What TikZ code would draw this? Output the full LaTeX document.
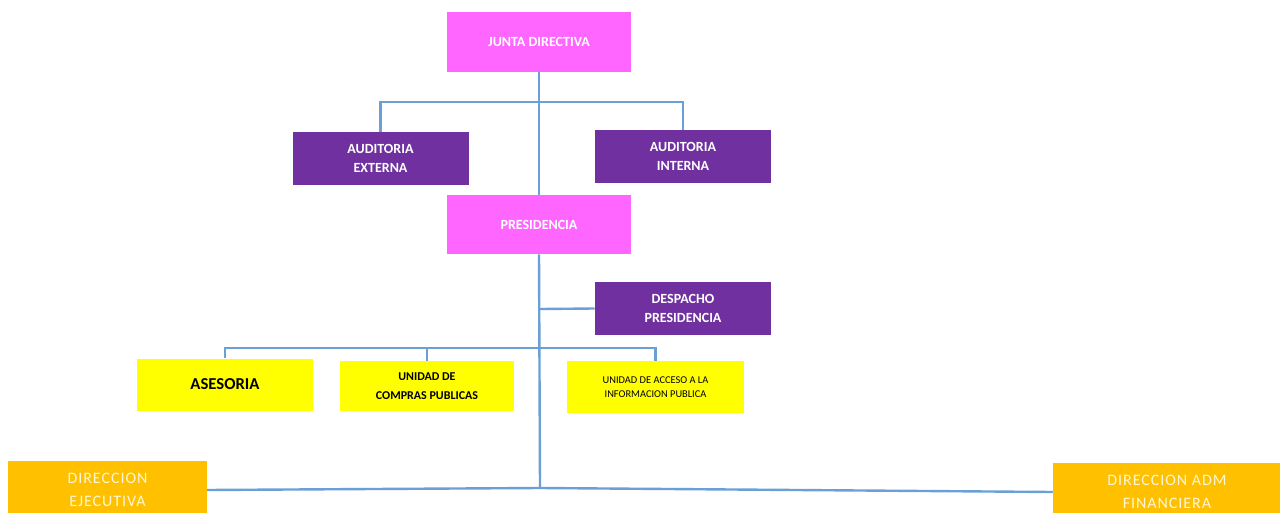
\documentclass[tikz,border=0pt]{standalone}
\usepackage{fontspec}
\setmainfont{Carlito}
\begin{document}
\begin{tikzpicture}[x=0.75pt,y=-0.75pt,
  box/.style={rectangle,inner sep=0pt,align=center,draw=none},
  pinkbox/.style={box,fill=magbox,text=white,minimum width=138pt,minimum height=44.5pt,font=\fontsize{10.5}{12}\selectfont\bfseries},
  violetbox/.style={box,fill=violetfill,text=white,minimum width=132pt,minimum height=39.75pt,font=\fontsize{10.5}{14}\selectfont\bfseries},
  yellowbox/.style={box,fill=yellowfill,text=black,minimum width=132pt,minimum height=39pt},
  orangebox/.style={box,fill=orangefill,text=orangetext,minimum height=44pt,font=\fontsize{12}{17}\selectfont\addfontfeature{LetterSpace=6}},
  link/.style={draw=linkblue,line width=1.8pt}]
\definecolor{magbox}{HTML}{FF66FF}
\definecolor{violetfill}{HTML}{7030A0}
\definecolor{yellowfill}{HTML}{FFFF00}
\definecolor{orangefill}{HTML}{FFC000}
\definecolor{orangetext}{HTML}{FFF6D6}
\definecolor{linkblue}{HTML}{6A9FD8}
\useasboundingbox (0,0) rectangle (1280,513);

% boxes
\node[pinkbox] (junta) at (539,42) {JUNTA DIRECTIVA};
\node[violetbox] (audext) at (380.5,158.5) {AUDITORIA\\EXTERNA};
\node[violetbox] (audint) at (683,156.5) {AUDITORIA\\INTERNA};
\node[pinkbox] (presi) at (539,224.5) {PRESIDENCIA};
\node[violetbox] (despacho) at (683,308.5) {DESPACHO\\PRESIDENCIA};
\node[yellowbox,font=\fontsize{12.5}{14}\selectfont\bfseries] (asesoria) at (225,384.5) {ASESORIA};
\node[yellowbox,minimum width=130.5pt,minimum height=37.5pt,font=\fontsize{9}{14}\selectfont\bfseries] (compras) at (427,386) {UNIDAD DE\\COMPRAS PUBLICAS};
\node[yellowbox,minimum width=133pt,font=\fontsize{7.8}{11}\selectfont] (acceso) at (655.5,387) {UNIDAD DE ACCESO A LA\\INFORMACION PUBLICA};
\node[orangebox,minimum width=149pt] (direje) at (107.5,490) {DIRECCION\\EJECUTIVA};
\node[orangebox,minimum width=171pt] (diradm) at (1167,492) {DIRECCION ADM\\FINANCIERA};

% junction points on the main vertical line
\coordinate (jtop) at (540,102);
\coordinate (jdesp) at (540,309);
\coordinate (jrow) at (540,348);
\coordinate (jbot) at (540,488);

% connectors
\draw[link] (junta.south) -- (presi.north);
\draw[link] (audext.north) |- (jtop) -| (audint.north);
\draw[link] (presi.south) -- (jbot);
\draw[link] (despacho.west) -- (jdesp);
\draw[link] (asesoria.north) |- (jrow) -| (acceso.north);
\draw[link] (compras.north) -- (compras.north |- jrow);
\draw[link] (direje.east) -- (jbot) -- (diradm.west);
\end{tikzpicture}
\end{document}
